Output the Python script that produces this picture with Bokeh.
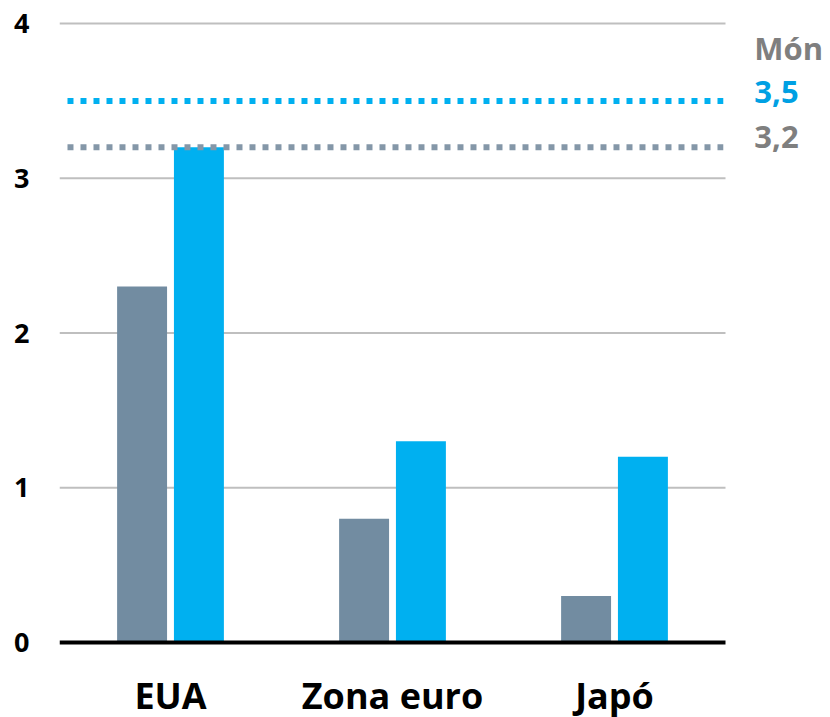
import numpy as np
from bokeh.plotting import figure
from bokeh.models import Range1d, FixedTicker, ColumnDataSource
from bokeh.core.properties import value
from bokeh.embed import file_html
from bokeh.resources import INLINE

categories = ["EUA", "Zona euro", "Japó"]
serie_gris = [2.3, 0.8, 0.3]
serie_blava = [3.2, 1.3, 1.2]
mon_label = "Món"
mon_valors = [3.5, 3.2]
mon_textos = ["3,5", "3,2"]
y_ticks = [0, 1, 2, 3, 4]

GRIS = "#728CA1"
BLAU = "#00B0F0"
GRIS_PUNTS = "#8497A8"
GRIS_TEXT = "#7F7F7F"
BLAU_TEXT = "#00A0E3"
FONT = "Open Sans"

PX_PER_CAT = 222.0
FRAME_W = 767
n = len(categories)
xs = np.arange(n)
x_start = -0.5
x_end = x_start + FRAME_W / PX_PER_CAT
cat_end = n - 0.5

p = figure(x_range=Range1d(x_start, x_end),
           y_range=Range1d(-0.02, 4.02),
           frame_width=FRAME_W, frame_height=625,
           min_border_left=59, min_border_right=0, min_border_top=20, min_border_bottom=70,
           output_backend="svg", toolbar_location=None)
p.outline_line_color = None
p.xgrid.grid_line_color = None
p.ygrid.grid_line_color = None

# grid lines limited to category area
gsrc = ColumnDataSource(dict(y=y_ticks[1:], x0=[x_start] * (len(y_ticks) - 1),
                             x1=[cat_end] * (len(y_ticks) - 1)))
p.segment(x0="x0", y0="y", x1="x1", y1="y", source=gsrc, line_color="#BFBFBF", line_width=2)

src = ColumnDataSource(dict(xg=xs - 0.128, xb=xs + 0.128, g=serie_gris, b=serie_blava))
p.vbar(x="xg", top="g", width=0.225, source=src, fill_color=GRIS, line_color=None)
p.vbar(x="xb", top="b", width=0.225, source=src, fill_color=BLAU, line_color=None)

# baseline
p.segment(x0=[x_start], y0=[y_ticks[0]], x1=[cat_end], y1=[y_ticks[0]],
          line_color="black", line_width=4)

# world reference lines
msrc = ColumnDataSource(dict(x0=[x_start + 0.036] * 2, x1=[cat_end - 0.01] * 2, y=mon_valors,
                             c=[BLAU, GRIS_PUNTS]))
p.segment(x0="x0", y0="y", x1="x1", y1="y", source=msrc,
          line_color="c", line_width=6, line_dash="6 7", line_cap="butt")

# right-hand labels
lx = cat_end + 0.13
tsrc = ColumnDataSource(dict(x=[lx] * 3, y=[mon_valors[0], mon_valors[0], mon_valors[1]],
                             t=[mon_label, mon_textos[0], mon_textos[1]],
                             dy=[-53, -9, -10],
                             c=[GRIS_TEXT, BLAU_TEXT, GRIS_TEXT]))
p.text(x="x", y="y", text="t", y_offset="dy", text_color="c", source=tsrc,
       text_font=value(FONT), text_font_style="bold", text_font_size="31px",
       text_baseline="middle", text_align="left")

p.yaxis.ticker = FixedTicker(ticks=y_ticks)
p.yaxis.axis_line_color = None
p.yaxis.major_tick_line_color = None
p.yaxis.minor_tick_line_color = None
p.yaxis.major_label_text_font = FONT
p.yaxis.major_label_text_font_style = "bold"
p.yaxis.major_label_text_font_size = "27px"
p.yaxis.major_label_text_color = "black"
p.yaxis.major_label_standoff = 24

p.xaxis.ticker = FixedTicker(ticks=list(xs))
p.xaxis.major_label_overrides = {int(i): c for i, c in zip(xs, categories)}
p.xaxis.axis_line_color = None
p.xaxis.major_tick_line_color = None
p.xaxis.minor_tick_line_color = None
p.xaxis.major_label_text_font = FONT
p.xaxis.major_label_text_font_style = "bold"
p.xaxis.major_label_text_font_size = "36px"
p.xaxis.major_label_text_color = "black"
p.xaxis.major_label_standoff = 19

open("out.html", "w").write(file_html(p, INLINE))
